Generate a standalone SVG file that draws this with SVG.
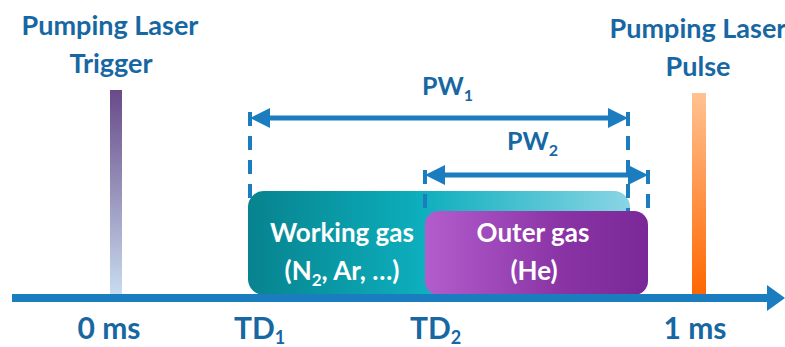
<svg xmlns="http://www.w3.org/2000/svg" width="785" height="347" viewBox="0 0 785 347">
<defs>
<style>
.lbl{font-family:Lato,"Open Sans","Liberation Sans",sans-serif;font-weight:bold;fill:#1767a3}
.top{font-size:27px}
.pw{font-size:25px}
.bot{font-size:30px}
.in{font-family:Lato,"Open Sans","Liberation Sans",sans-serif;font-weight:bold;fill:#ffffff;font-size:26px}
.dash{stroke:#1b7cc0;stroke-width:4;stroke-dasharray:14 10;fill:none}
.arr{stroke:#1b7cc0;stroke-width:5;fill:none}
.head{fill:#1b7cc0}
</style>
<linearGradient id="gTrig" x1="0" y1="0" x2="0" y2="1">
<stop offset="0" stop-color="#684a88"/>
<stop offset="1" stop-color="#c9ddf0"/>
</linearGradient>
<linearGradient id="gPulse" x1="0" y1="0" x2="0" y2="1">
<stop offset="0" stop-color="#ffc292"/>
<stop offset="1" stop-color="#ff6600"/>
</linearGradient>
<linearGradient id="gTeal" x1="0" y1="0" x2="1" y2="0">
<stop offset="0" stop-color="#07838e"/>
<stop offset="0.45" stop-color="#0daebd"/>
<stop offset="1" stop-color="#8ad5e4"/>
</linearGradient>
<linearGradient id="gPurp" x1="0" y1="0" x2="1" y2="0">
<stop offset="0" stop-color="#b35dcd"/>
<stop offset="0.6" stop-color="#8a34a6"/>
<stop offset="1" stop-color="#7a2898"/>
</linearGradient>
</defs>

<g id="trigger-label">
<text class="lbl top" x="110" y="35" text-anchor="middle">Pumping Laser</text>
<text class="lbl top" x="111" y="73" text-anchor="middle">Trigger</text>
</g>
<g id="pulse-label">
<text class="lbl top" x="698" y="38" text-anchor="middle">Pumping Laser</text>
<text class="lbl top" x="698" y="76" text-anchor="middle">Pulse</text>
</g>

<g id="trigger-bar"><rect x="110" y="90" width="12" height="206" fill="url(#gTrig)"/></g>
<g id="pulse-bar"><rect x="692" y="93" width="14" height="203" fill="url(#gPulse)"/></g>

<g id="working-gas-box"><rect x="248" y="191" width="382" height="104" rx="16" fill="url(#gTeal)"/></g>

<g id="connectors">
<line class="dash" x1="250" y1="112" x2="250" y2="200"/>
<line class="dash" x1="628" y1="112" x2="628" y2="212"/>
<line class="dash" x1="425" y1="170" x2="425" y2="214"/>
<line class="dash" x1="648" y1="170" x2="648" y2="214"/>
<line class="arr" x1="262" y1="118" x2="616" y2="118"/>
<polygon class="head" points="250,118 270,108 270,128"/>
<polygon class="head" points="628,118 608,108 608,128"/>
<line class="arr" x1="437" y1="175" x2="636" y2="175"/>
<polygon class="head" points="425,175 445,165 445,185"/>
<polygon class="head" points="648,175 628,165 628,185"/>
</g>

<g id="outer-gas-box"><rect x="425" y="211" width="223" height="84" rx="14" fill="url(#gPurp)"/></g>

<g id="working-gas-text">
<text class="in" x="342" y="242" text-anchor="middle">Working gas</text>
<text class="in" x="342" y="280" text-anchor="middle">(N<tspan font-size="17" dy="6">2</tspan><tspan dy="-6">, Ar, …)</tspan></text>
</g>
<g id="outer-gas-text">
<text class="in" x="533" y="242" text-anchor="middle">Outer gas</text>
<text class="in" x="534" y="280" text-anchor="middle">(He)</text>
</g>

<g id="pw1-label"><text class="lbl pw" x="422" y="95">PW<tspan font-size="16" dy="6">1</tspan></text></g>
<g id="pw2-label"><text class="lbl pw" x="507" y="150">PW<tspan font-size="16" dy="6">2</tspan></text></g>

<g id="axis">
<line x1="12" y1="298" x2="770" y2="298" stroke="#1a7dc0" stroke-width="8"/>
<polygon points="767,285 785,298 767,311" fill="#1a7dc0"/>
</g>

<g id="tick-labels">
<text class="lbl bot" x="109" y="339" text-anchor="middle">0 ms</text>
<text class="lbl bot" x="234" y="339">TD<tspan font-size="18" dy="5">1</tspan></text>
<text class="lbl bot" x="410" y="339">TD<tspan font-size="18" dy="5">2</tspan></text>
<text class="lbl bot" x="695" y="339" text-anchor="middle">1 ms</text>
</g>
</svg>
